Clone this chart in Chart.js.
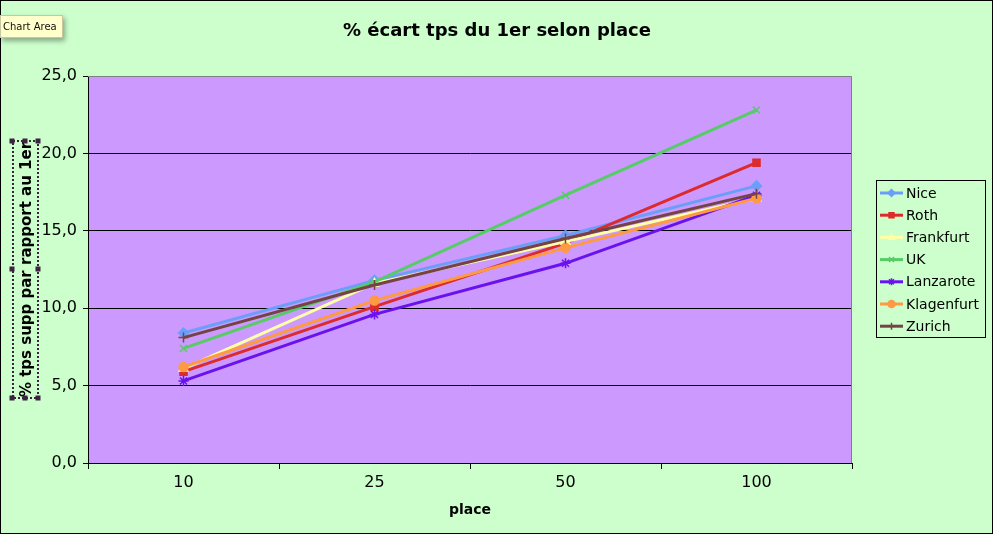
<!DOCTYPE html>
<html>
<head>
<meta charset="utf-8">
<script src="https://cdn.jsdelivr.net/npm/chart.js@4"></script>
<style>
html,body{margin:0;padding:0;background:#ccffcc;}
#wrap{position:relative;width:993px;height:534px;}
canvas{display:block;}
#tip{position:absolute;left:0;top:15px;width:59px;height:21px;background:#ffffcc;border:1px solid #c8c8a0;
 font:10px "DejaVu Sans",Verdana,sans-serif;line-height:21px;padding-left:2px;box-shadow:2px 3px 5px rgba(0,0,0,0.35);color:#111;white-space:nowrap;}
</style>
</head>
<body>
<div id="wrap">
<canvas id="c" width="993" height="534"></canvas>
<div id="tip">Chart Area</div>
</div>
<script>
const titleText = "% écart tps du 1er selon place";
const xTitle = "place";
const yTitle = "% tps supp par rapport au 1er";
const places = ["10", "25", "50", "100"];
const yTicks = [0, 5, 10, 15, 20, 25];

const nice       = [8.4, 11.8, 14.7, 17.9];
const roth       = [5.9, 10.1, 14.2, 19.4];
const frankfurt  = [6.1, 11.6, 14.3, 17.1];
const uk         = [7.4, 11.7, 17.3, 22.8];
const lanzarote  = [5.3, 9.6, 12.9, 17.3];
const klagenfurt = [6.2, 10.5, 13.9, 17.1];
const zurich     = [8.1, 11.5, 14.5, 17.4];

const seriesNames = ["Nice","Roth","Frankfurt","UK","Lanzarote","Klagenfurt","Zurich"];
const seriesData = [nice, roth, frankfurt, uk, lanzarote, klagenfurt, zurich];
const colors = ["#6b9ff7","#dd2b2b","#ffffa8","#55cc66","#6a12ee","#ff9a44","#744444"];
const styles = ["rectRot","rect","triangle","crossRot","star","circle","cross"];

const PL = 88, PR = 852, PT = 76, PB = 463, W = 993, H = 534;
const FONT = '"DejaVu Sans", Verdana, sans-serif';

const datasets = seriesNames.map((n, i) => ({
  label: n,
  data: seriesData[i],
  borderColor: colors[i],
  backgroundColor: colors[i],
  pointStyle: styles[i],
  pointRadius: styles[i] === 'circle' ? 4.5 : 5,
  pointBorderColor: colors[i],
  pointBackgroundColor: colors[i],
  pointBorderWidth: 1.5,
  borderWidth: 3,
  tension: 0,
  order: seriesNames.length - i
}));

const bgPlugin = {
  id: 'bg',
  beforeDraw(chart) {
    const ctx = chart.ctx, a = chart.chartArea;
    ctx.save();
    ctx.fillStyle = '#ccffcc';
    ctx.fillRect(0, 0, W, H);
    ctx.fillStyle = '#cc99ff';
    ctx.fillRect(a.left, a.top, a.right - a.left, a.bottom - a.top);
    ctx.restore();
  },
  beforeDatasetsDraw(chart) {
    const ctx = chart.ctx, a = chart.chartArea;
    ctx.save();
    ctx.strokeStyle = '#808080';
    ctx.lineWidth = 1;
    ctx.beginPath();
    ctx.moveTo(a.left, a.top + 0.5);
    ctx.lineTo(a.right - 0.5, a.top + 0.5);
    ctx.lineTo(a.right - 0.5, a.bottom);
    ctx.stroke();
    ctx.restore();
  },
  afterDraw(chart) {
    const ctx = chart.ctx;
    ctx.save();
    // title
    ctx.fillStyle = '#000';
    ctx.font = 'bold 18px ' + FONT;
    ctx.textAlign = 'center';
    ctx.textBaseline = 'middle';
    ctx.fillText(titleText, 497, 31);
    // selection frame around y title
    ctx.strokeStyle = '#3a2240';
    ctx.lineWidth = 2;
    ctx.setLineDash([2, 2]);
    ctx.strokeRect(13, 141, 25, 257);
    ctx.setLineDash([]);
    ctx.fillStyle = '#3a2240';
    const hx = [12, 25, 38], hy = [141, 269, 398];
    hx.forEach(x => hy.forEach(y => {
      if (x === 25 && y === 269) return;
      ctx.fillRect(x - 2.5, y - 2.5, 5, 5);
    }));
    // legend
    ctx.strokeStyle = '#000';
    ctx.lineWidth = 1;
    ctx.strokeRect(876.5, 180.5, 109, 157);
    ctx.font = '14px ' + FONT;
    ctx.textAlign = 'left';
    ctx.textBaseline = 'middle';
    seriesNames.forEach((n, i) => {
      const y = 193 + i * 22.2;
      ctx.strokeStyle = colors[i];
      ctx.lineWidth = 3;
      ctx.beginPath();
      ctx.moveTo(880, y);
      ctx.lineTo(903, y);
      ctx.stroke();
      ctx.fillStyle = colors[i];
      ctx.strokeStyle = colors[i];
      ctx.lineWidth = 1.5;
      Chart.helpers.drawPoint(ctx, {pointStyle: styles[i], radius: 3.5, rotation: 0, borderWidth: 1.5}, 891.5, y);
      ctx.fillStyle = '#000';
      ctx.fillText(n, 906, y + 1);
    });
    // outer border
    ctx.strokeStyle = '#000';
    ctx.lineWidth = 1;
    ctx.strokeRect(0.5, 0.5, W - 1, H - 1);
    ctx.restore();
  }
};

new Chart(document.getElementById('c'), {
  type: 'line',
  data: { labels: places, datasets },
  options: {
    responsive: false,
    animation: false,
    devicePixelRatio: 1,
    layout: { padding: { left: 0, right: W - PR, top: PT, bottom: 0 } },
    plugins: { legend: { display: false }, title: { display: false }, tooltip: { enabled: false } },
    scales: {
      x: {
        type: 'category',
        offset: true,
        afterFit(s) { s.height = H - PB; },
        grid: { display: true, drawOnChartArea: false, offset: true, tickLength: 6, color: '#000', tickColor: '#000' },
        border: { display: true, color: '#000', width: 1 },
        ticks: { color: '#000', font: { family: FONT, size: 16 }, padding: 4, maxRotation: 0 },
        title: { display: true, text: xTitle, color: '#000', font: { family: FONT, size: 14, weight: 'bold' }, padding: { top: 15, bottom: 15 } }
      },
      y: {
        min: 0, max: 25,
        afterFit(s) { s.width = PL; },
        afterBuildTicks(s) { s.ticks = yTicks.map(v => ({ value: v })); },
        grid: {
          tickLength: 5,
          color: ctx => (ctx.tick && ctx.tick.value === 25) ? 'rgba(0,0,0,0)' : '#000',
          tickColor: '#000',
          lineWidth: 1
        },
        border: { display: true, color: '#000', width: 1 },
        ticks: {
          color: '#000', font: { family: FONT, size: 16 }, padding: 6,
          callback: v => Number(v).toFixed(1).replace('.', ',')
        },
        title: { display: true, text: yTitle, color: '#000', font: { family: FONT, size: 15, weight: 'bold' }, padding: { top: 18, bottom: 18 } }
      }
    }
  },
  plugins: [bgPlugin]
});
</script>
</body>
</html>
